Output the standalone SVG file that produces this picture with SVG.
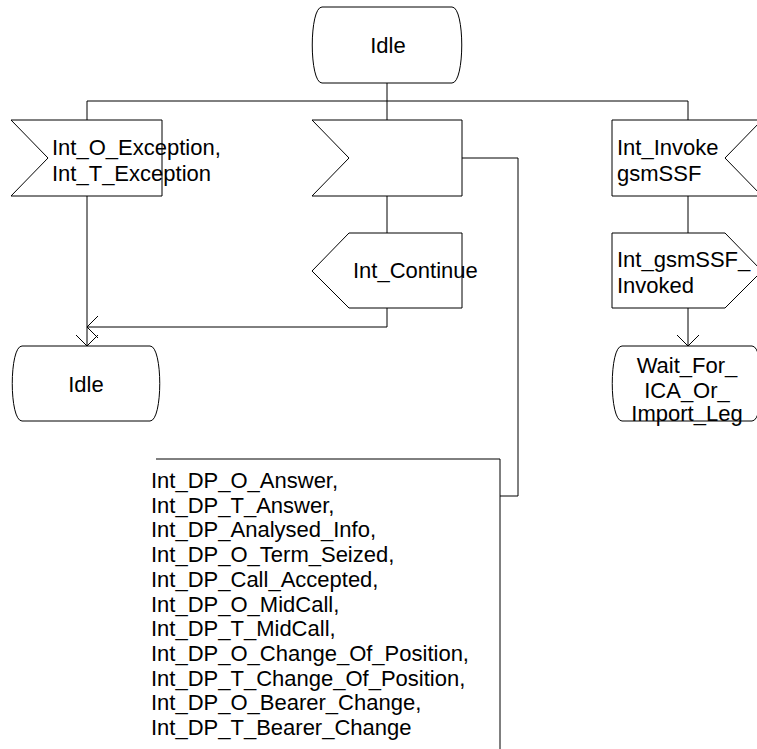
<svg xmlns="http://www.w3.org/2000/svg" width="757" height="749" viewBox="0 0 757 749">
<style>
.s{fill:#fff;stroke:#000;stroke-width:1}
.c{fill:none;stroke:#000;stroke-width:1}
text{font-family:"Liberation Sans",Arial,sans-serif;font-size:22px;fill:#000}
.m{text-anchor:middle}
</style>
<defs>
<marker id="ah" markerUnits="userSpaceOnUse" markerWidth="14" markerHeight="26" refX="11" refY="11" orient="auto" overflow="visible">
<path d="M0,0 L11,11 L0,22" fill="none" stroke="#000" stroke-width="1"/>
</marker>
</defs>
<rect width="757" height="749" fill="#fff"/>
<g id="connectors">
<path class="c" d="M387,83 V101"/>
<path class="c" d="M87,101 H688"/>
<path class="c" d="M87,101 V120"/>
<path class="c" d="M387,101 V120"/>
<path class="c" d="M688,101 V120"/>
<path class="c" d="M87,196 V346" marker-end="url(#ah)"/>
<path class="c" d="M387,196 V233"/>
<path class="c" d="M387,308 V327 H87" marker-end="url(#ah)"/>
<path class="c" d="M462,158 H518 V496 H500"/>
<path class="c" d="M688,196 V233"/>
<path class="c" d="M688,308 V346" marker-end="url(#ah)"/>
</g>
<g id="idle_top">
<path class="s" d="M322,7 H452 C465,7 465,83 452,83 H322 C309,83 309,7 322,7 Z"/>
<text class="m" x="388" y="53">Idle</text>
</g>
<g id="in_exception">
<polygon class="s" points="11,120 162,120 162,196 11,196 48,158"/>
<text x="52" y="155">Int_O_Exception,</text>
<text x="52" y="181">Int_T_Exception</text>
</g>
<g id="in_dp">
<polygon class="s" points="312,120 462,120 462,196 312,196 349,158"/>
</g>
<g id="in_invoke">
<polygon class="s" points="612,120 762,120 725,158 762,196 612,196"/>
<text x="617" y="155">Int_Invoke</text>
<text x="617" y="181">gsmSSF</text>
</g>
<g id="out_continue">
<polygon class="s" points="349,233 462,233 462,308 349,308 312,271"/>
<text x="353" y="278">Int_Continue</text>
</g>
<g id="out_invoked">
<polygon class="s" points="612,233 725,233 762,271 725,308 612,308"/>
<text x="617" y="267">Int_gsmSSF_</text>
<text x="617" y="293">Invoked</text>
</g>
<g id="idle_bottom">
<path class="s" d="M22,346 H150 C163,346 163,421 150,421 H22 C9,421 9,346 22,346 Z"/>
<text class="m" x="86" y="392">Idle</text>
</g>
<g id="wait_state">
<path class="s" d="M622,346 H752 C765,346 765,421 752,421 H622 C609,421 609,346 622,346 Z"/>
<text class="m" x="687" y="373">Wait_For_</text>
<text class="m" x="687" y="398">ICA_Or_</text>
<text class="m" x="687" y="421">Import_Leg</text>
</g>
<g id="dp_list">
<path class="c" d="M156,459 H500 V750"/>
<text x="151" y="488">Int_DP_O_Answer,</text>
<text x="151" y="512.7">Int_DP_T_Answer,</text>
<text x="151" y="537.4">Int_DP_Analysed_Info,</text>
<text x="151" y="562.1">Int_DP_O_Term_Seized,</text>
<text x="151" y="586.8">Int_DP_Call_Accepted,</text>
<text x="151" y="611.5">Int_DP_O_MidCall,</text>
<text x="151" y="636.2">Int_DP_T_MidCall,</text>
<text x="151" y="660.9">Int_DP_O_Change_Of_Position,</text>
<text x="151" y="685.6">Int_DP_T_Change_Of_Position,</text>
<text x="151" y="710.3">Int_DP_O_Bearer_Change,</text>
<text x="151" y="735">Int_DP_T_Bearer_Change</text>
</g>
</svg>
